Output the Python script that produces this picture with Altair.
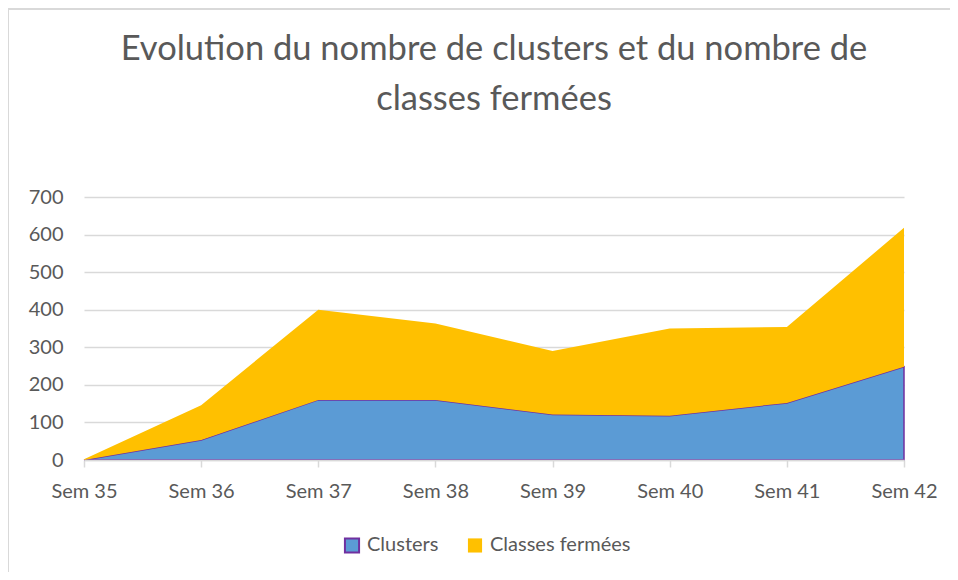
import altair as alt
import pandas as pd

weeks = ["Sem 35", "Sem 36", "Sem 37", "Sem 38", "Sem 39", "Sem 40", "Sem 41", "Sem 42"]
clusters = [0, 53, 160, 160, 121, 118, 152, 248]
classes_fermees = [2, 93, 240, 203, 169, 232, 202, 370]
series = ["Clusters", "Classes fermées"]
y_ticks = [0, 100, 200, 300, 400, 500, 600, 700]

rows = []
for i, w in enumerate(weeks):
    rows.append({"week": w, "series": series[0], "value": clusters[i], "idx": 0})
    rows.append({"week": w, "series": series[1], "value": classes_fermees[i], "idx": 1})
df = pd.DataFrame(rows)

FONT = "Lato"
GRAY = "#595959"
GRID = "#D9D9D9"

area = alt.Chart(df).mark_area(strokeWidth=1.5).encode(
    x=alt.X("week:N", sort=weeks, title=None,
            scale=alt.Scale(type="point", padding=0),
            axis=alt.Axis(labelAngle=0, domainColor=GRID, domainWidth=1.5,
                          tickColor=GRID, tickWidth=1.5, tickSize=7,
                          labelPadding=14, labelFontSize=20, labelColor=GRAY,
                          labelFont=FONT, grid=False, zindex=1)),
    y=alt.Y("value:Q", stack="zero", title=None,
            scale=alt.Scale(domain=[0, 700], nice=False),
            axis=alt.Axis(values=y_ticks, domain=False, ticks=False,
                          gridColor=GRID, gridWidth=1.5, labelPadding=21,
                          labelFontSize=20, labelColor=GRAY, labelFont=FONT)),
    color=alt.Color("series:N", title=None,
                    scale=alt.Scale(domain=series, range=["#5B9BD5", "#FFC000"]),
                    legend=alt.Legend(orient="none", legendX=258, legendY=338,
                                      direction="horizontal", symbolType="square",
                                      symbolSize=200, symbolStrokeWidth=2,
                                      labelFontSize=20, labelColor=GRAY, labelFont=FONT,
                                      labelOffset=5, columnPadding=24)),
    stroke=alt.Stroke("series:N", title=None,
                      scale=alt.Scale(domain=series, range=["#7030A0", "transparent"])),
    order=alt.Order("idx:Q", sort="ascending"),
)

border = alt.Chart(alt.Data(values=[{"a": 1}])).mark_rule(color=GRID, strokeWidth=2).encode(
    x=alt.value(-76), x2=alt.value(866), y=alt.value(-188), y2=alt.value(-188)
)
border2 = alt.Chart(alt.Data(values=[{"a": 1}])).mark_rule(color=GRID, strokeWidth=2).encode(
    x=alt.value(-76), x2=alt.value(-76), y=alt.value(-188), y2=alt.value(375)
)

chart = alt.layer(border, border2, area).properties(
    width=820, height=263,
    padding={"left": 76, "top": 189, "right": 46, "bottom": 112},
    autosize=alt.AutoSizeParams(type="none"),
    title=alt.TitleParams(
        text=["Evolution du nombre de clusters et du nombre de", "classes fermées"],
        fontSize=34.5, font=FONT, fontWeight="normal", color=GRAY,
        anchor="middle", baseline="alphabetic", lineHeight=50, offset=-136,
    ),
).configure(background="white", view=alt.ViewConfig(stroke="transparent"))

chart.save("out.html", embed_options={"renderer": "svg", "actions": False})
